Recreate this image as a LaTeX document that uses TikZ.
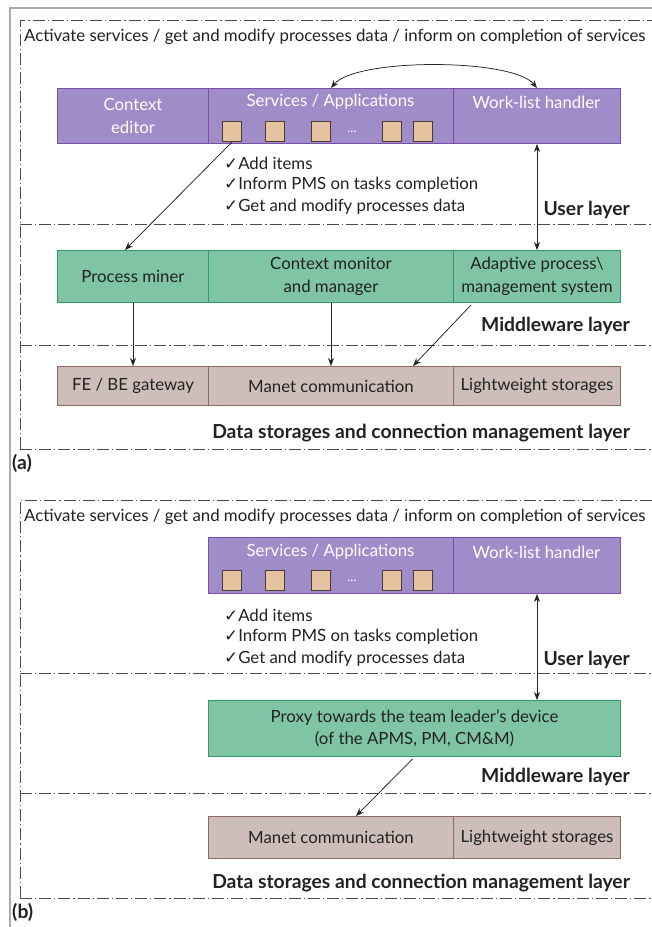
\documentclass[tikz,border=0pt]{standalone}
\usepackage{fontspec}
\setmainfont{Lato}
\newfontfamily\symfont{DejaVu Sans}
\usetikzlibrary{arrows.meta,calc}

\definecolor{purpfill}{HTML}{A08CC8}
\definecolor{purpline}{HTML}{7A50A8}
\definecolor{greenfill}{HTML}{80C4A6}
\definecolor{greenline}{HTML}{2E9A68}
\definecolor{brownfill}{HTML}{CDBEBA}
\definecolor{brownline}{HTML}{8C6A62}
\definecolor{sqfill}{HTML}{E6C3A0}
\definecolor{sqline}{HTML}{4A3A30}
\definecolor{framecol}{HTML}{B8A8A2}
\definecolor{inkcol}{HTML}{222222}

\newcommand{\chk}{{\symfont\char"2713}}

\begin{document}
\begin{tikzpicture}[x=1pt,y=-1pt,
  cell/.style={draw, line width=1pt, anchor=north west, inner sep=0pt,
    align=center, font=\fontsize{16.8}{22.5}\selectfont},
  pcell/.style={cell, fill=purpfill, draw=purpline, text=white},
  gcell/.style={cell, fill=greenfill, draw=greenline, text=inkcol},
  bcell/.style={cell, fill=brownfill, draw=brownline, text=inkcol},
  celltext/.style={font=\fontsize{16.8}{22}\selectfont, text=white, inner sep=0pt},
  sq/.style={draw=sqline, fill=sqfill, line width=1pt, minimum width=19pt,
    minimum height=20pt, inner sep=0pt, anchor=north west},
  plain/.style={font=\fontsize{16.8}{22}\selectfont, text=inkcol, inner sep=0pt, anchor=west},
  layerlabel/.style={font=\bfseries\fontsize{19.3}{22}\selectfont, text=inkcol,
    inner sep=0pt, anchor=east},
  sep/.style={draw=black!70, line width=0.9pt,
    dash pattern=on 12pt off 3pt on 1.2pt off 3pt},
  frameline/.style={draw=framecol, line width=1.6pt},
  arr/.style={-{Stealth[length=8pt,width=6pt]}, line width=0.75pt, draw=inkcol},
  darr/.style={{Stealth[length=8pt,width=6pt]}-{Stealth[length=8pt,width=6pt]},
    line width=0.75pt, draw=inkcol}]

\useasboundingbox (0,0) rectangle (652,927);
\fill[white] (0,0) rectangle (652,927);

% outer frame
\draw[frameline] (10,927) -- (10,8) -- (652,8);

% ---------- panel (a) ----------
\draw[sep] (20,449) -- (20,20) -- (652,20);
\draw[sep] (20,224) -- (652,224);
\draw[sep] (20,345) -- (652,345);
\draw[sep] (20,449) -- (652,449);

\node[plain] (topa) at (24,37) {Activate services / get and modify processes data / inform on completion of services};

% user layer
\node[pcell, minimum width=151pt, minimum height=55pt] (ce) at (57,88) {Context\\editor};
\node[pcell, minimum width=245pt, minimum height=55pt] (sa) at (208,88) {};
\node[pcell, minimum width=167pt, minimum height=55pt] (wl) at (453,88) {};
\node[celltext] (satxt) at (330.5,102) {Services / Applications};
\node[celltext] (wltxt) at (536.5,102) {Work-list handler};
\node[sq] (sq1) at (222,121) {};
\node[sq] (sq2) at (265,121) {};
\node[sq] (sq3) at (311,121) {};
\node[celltext, font=\fontsize{13}{15}\selectfont] (dots) at (352,132) {...};
\node[sq] (sq4) at (382,121) {};
\node[sq] (sq5) at (413,121) {};

\node[plain] (ck1) at (224,163) {\chk Add items};
\node[plain] (ck2) at (224,185) {\chk Inform PMS on tasks completion};
\node[plain] (ck3) at (224,207) {\chk Get and modify processes data};
\node[layerlabel] (ula) at (630,210) {User layer};

% middleware layer
\node[gcell, minimum width=151pt, minimum height=52pt] (pm) at (57,250) {Process miner};
\node[gcell, minimum width=245pt, minimum height=52pt] (cm) at (208,250) {Context monitor\\and manager};
\node[gcell, minimum width=167pt, minimum height=52pt] (apm) at (453,250) {Adaptive process\textbackslash\\management system};
\node[layerlabel] (mla) at (630,326) {Middleware layer};

% data storages layer
\node[bcell, minimum width=151pt, minimum height=39pt] (fe) at (57,366) {FE / BE gateway};
\node[bcell, minimum width=245pt, minimum height=39pt] (mc) at (208,366) {Manet communication};
\node[bcell, minimum width=167pt, minimum height=39pt] (ls) at (453,366) {Lightweight storages};
\node[layerlabel] (dla) at (630,433) {Data storages and connection management layer};

\node[layerlabel, anchor=west] (capa) at (12,463) {(a)};

% connectors (a)
\draw[darr] (sa.north) .. controls +(25,-30) and +(-25,-30) .. (wl.north);
\draw[arr] (sq1.south) -- ($(pm.north)+(-8,0)$);
\draw[darr] (wl.south) -- (apm.north);
\draw[arr] (pm.south) -- (fe.north);
\draw[arr] (cm.south) -- (mc.north);
\draw[arr] ($(apm.south west)+(18,2)$) -- ($(mc.north)+(82,0)$);

% ---------- panel (b) ----------
\draw[sep] (20,898) -- (20,500) -- (652,500);
\draw[sep] (20,673) -- (652,673);
\draw[sep] (20,793) -- (652,793);
\draw[sep] (20,898) -- (652,898);

\node[plain] (topb) at (24,517) {Activate services / get and modify processes data / inform on completion of services};

\node[pcell, minimum width=245pt, minimum height=56pt] (sb) at (208,537) {};
\node[pcell, minimum width=167pt, minimum height=56pt] (wlb) at (453,537) {};
\node[celltext] (sbtxt) at (330.5,552) {Services / Applications};
\node[celltext] (wlbtxt) at (536.5,552) {Work-list handler};
\node[sq] (sqb1) at (222,570) {};
\node[sq] (sqb2) at (265,570) {};
\node[sq] (sqb3) at (311,570) {};
\node[celltext, font=\fontsize{13}{15}\selectfont] (dotsb) at (352,581) {...};
\node[sq] (sqb4) at (382,570) {};
\node[sq] (sqb5) at (413,570) {};

\node[plain] (ckb1) at (224,615) {\chk Add items};
\node[plain] (ckb2) at (224,637) {\chk Inform PMS on tasks completion};
\node[plain] (ckb3) at (224,659) {\chk Get and modify processes data};
\node[layerlabel] (ulb) at (630,660) {User layer};

\node[gcell, minimum width=412pt, minimum height=56pt] (px) at (208,700) {Proxy towards the team leader's device\\(of the APMS, PM, CM\&M)};
\node[layerlabel] (mlb) at (630,777) {Middleware layer};

\node[bcell, minimum width=245pt, minimum height=42pt] (mcb) at (208,816) {Manet communication};
\node[bcell, minimum width=167pt, minimum height=42pt] (lsb) at (453,816) {Lightweight storages};
\node[layerlabel] (dlb) at (630,883) {Data storages and connection management layer};

\node[layerlabel, anchor=west] (capb) at (12,912) {(b)};

% connectors (b)
\draw[darr] (wlb.south) -- (wlb.south |- px.north);
\draw[arr] ($(px.south)+(-2,2)$) -- ($(mcb.north)+(25,0)$);

\end{tikzpicture}
\end{document}
